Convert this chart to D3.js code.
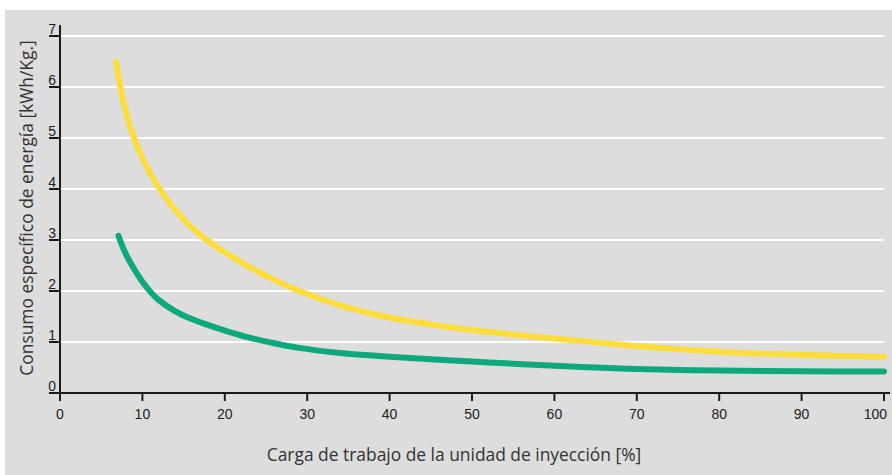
<!DOCTYPE html>
<html>
<head>
<meta charset="utf-8">
<script src="https://cdn.jsdelivr.net/npm/d3@7"></script>
<style>
  html, body { margin: 0; padding: 0; background: #ffffff; }
  svg { display: block; }
</style>
</head>
<body>
<svg id="chart" width="892" height="475"></svg>
<script>
// ---- data ----
const xTicks = [0, 10, 20, 30, 40, 50, 60, 70, 80, 90, 100];
const yTicks = [0, 1, 2, 3, 4, 5, 6, 7];

const yellowX = [6.8, 7.5, 8.5, 10, 12, 14, 17, 20, 23, 26, 29, 34, 40, 46, 52, 58, 64, 70, 80, 90, 100];
const yellowY = [6.5, 5.85, 5.22, 4.6, 4.02, 3.58, 3.1, 2.76, 2.47, 2.22, 2.0, 1.72, 1.48, 1.32, 1.2, 1.1, 1.01, 0.92, 0.81, 0.75, 0.71];

const greenX = [7.1, 8, 9, 10, 11, 12, 14, 16, 18, 20.5, 23, 26, 29, 34, 40, 46, 52, 58, 64, 70, 80, 90, 100];
const greenY = [3.08, 2.72, 2.43, 2.18, 1.98, 1.82, 1.6, 1.45, 1.33, 1.2, 1.085, 0.975, 0.885, 0.785, 0.71, 0.65, 0.6, 0.55, 0.505, 0.47, 0.44, 0.425, 0.42];

const xTitle = "Carga de trabajo de la unidad de inyección [%]";
const yTitle = "Consumo específico de energía [kWh/Kg.]";

// ---- drawing ----
const svg = d3.select("#chart");

svg.append("rect").attr("x", 5).attr("y", 10).attr("width", 887).attr("height", 465).attr("fill", "#dddddd");

const x = d3.scaleLinear().domain([0, 100]).range([60, 884]);
const y = d3.scaleLinear().domain([0, 7]).range([393, 36]);

// gridlines
svg.append("g").selectAll("line").data(yTicks.filter(d => d > 0)).join("line")
  .attr("x1", x(0)).attr("x2", x(100))
  .attr("y1", d => y(d)).attr("y2", d => y(d))
  .attr("stroke", "#ffffff").attr("stroke-width", 2);

// curves
const line = d3.line().x(d => x(d[0])).y(d => y(d[1])).curve(d3.curveCatmullRom.alpha(0.5));
const yellow = yellowX.map((v, i) => [v, yellowY[i]]);
const green = greenX.map((v, i) => [v, greenY[i]]);

svg.append("path").attr("d", line(yellow)).attr("fill", "none")
  .attr("stroke", "#fcdd3e").attr("stroke-width", 6).attr("stroke-linecap", "round").attr("stroke-linejoin", "round");
svg.append("path").attr("d", line(green)).attr("fill", "none")
  .attr("stroke", "#0ea87f").attr("stroke-width", 6).attr("stroke-linecap", "round").attr("stroke-linejoin", "round");

// axes
const axisColor = "#1a1a1a";
svg.append("line").attr("x1", x(0)).attr("x2", x(0)).attr("y1", 25).attr("y2", y(0) + 1)
  .attr("stroke", axisColor).attr("stroke-width", 2);
svg.append("line").attr("x1", 49).attr("x2", 890).attr("y1", y(0)).attr("y2", y(0))
  .attr("stroke", axisColor).attr("stroke-width", 2);

// y ticks (left of axis) with labels above-left
const yt = svg.append("g");
yt.selectAll("line").data(yTicks).join("line")
  .attr("x1", 49).attr("x2", x(0)).attr("y1", d => y(d)).attr("y2", d => y(d))
  .attr("stroke", axisColor).attr("stroke-width", 2);
yt.selectAll("text").data(yTicks).join("text")
  .attr("x", 56).attr("y", d => y(d) - 2)
  .attr("text-anchor", "end")
  .attr("font-family", "'Liberation Sans', Arial, sans-serif").attr("font-size", 14)
  .attr("fill", "#222").text(d => d);

// x ticks
const xt = svg.append("g");
xt.selectAll("line").data(xTicks).join("line")
  .attr("x1", d => x(d)).attr("x2", d => x(d)).attr("y1", y(0)).attr("y2", y(0) + 8)
  .attr("stroke", axisColor).attr("stroke-width", 2);
xt.selectAll("text").data(xTicks).join("text")
  .attr("x", d => d === 100 ? 887 : x(d)).attr("y", 419)
  .attr("text-anchor", d => d === 100 ? "end" : "middle")
  .attr("font-family", "'Liberation Sans', Arial, sans-serif").attr("font-size", 14)
  .attr("fill", "#222").text(d => d);

// titles
svg.append("text").attr("x", 454).attr("y", 461).attr("text-anchor", "middle")
  .attr("font-family", "'Open Sans', 'Noto Sans', sans-serif").attr("font-size", 17.4)
  .attr("fill", "#333").text(xTitle);

svg.append("text").attr("transform", "translate(33,208) rotate(-90)").attr("text-anchor", "middle")
  .attr("font-family", "'Open Sans', 'Noto Sans', sans-serif").attr("font-size", 17.4)
  .attr("fill", "#333").text(yTitle);
</script>
</body>
</html>
